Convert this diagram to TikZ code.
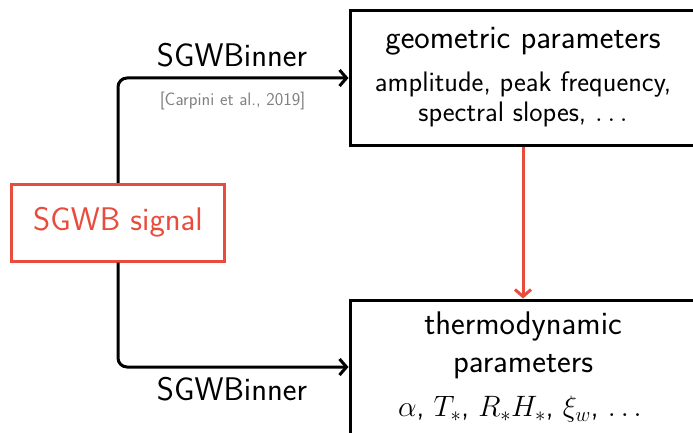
\RequirePackage{fix-cm}
\documentclass[tikz,border=0pt]{standalone}
\usetikzlibrary{arrows.meta}
\definecolor{sigred}{RGB}{231,76,60}
\definecolor{citegray}{RGB}{128,128,128}
\begin{document}
\begin{tikzpicture}[x=1pt,y=-1pt,
  box/.style={draw=black, line width=3pt, rectangle, inner sep=0pt},
  sigbox/.style={draw=sigred, text=sigred, line width=3pt, rectangle, inner sep=0pt,
    font=\sffamily\fontsize{32.7}{38}\selectfont},
  conn/.style={line width=3pt, -{Straight Barb[length=7pt,width=16pt]}, rounded corners=9pt},
  redconn/.style={conn, draw=sigred},
  big/.style={font=\sffamily\fontsize{32.7}{38}\selectfont, anchor=base, inner sep=0pt},
  mid/.style={font=\sffamily\fontsize{28.2}{33}\selectfont, anchor=base, inner sep=0pt},
  mathl/.style={font=\sffamily\fontsize{29.5}{34}\selectfont, anchor=base, inner sep=0pt},
  cite/.style={font=\sffamily\fontsize{18}{21}\selectfont, text=citegray, anchor=base, inner sep=0pt},
]
\useasboundingbox (0,0) rectangle (693,433);
\clip (0,0) rectangle (693,433);
% boxes
\node[box, minimum width=346pt, minimum height=134pt] (geo) at (523,78) {};
\node[box, minimum width=346pt, minimum height=134pt] (thermo) at (523,367) {};
\node[sigbox, minimum width=212.6pt, minimum height=76.7pt] (sig) at (118,222.7) {SGWB signal};
% box texts
\node[big] (geot) at (523,48.3) {geometric parameters};
\node[mid] (geol1) at (523,91.7) {amplitude, peak frequency,};
\node[mid] (geol2) at (523,121.7) {spectral slopes, $\ldots$};
\node[big] (tht1) at (523,334.3) {thermodynamic};
\node[big] (tht2) at (523,372.7) {parameters};
\node[mathl] (thl) at (520,416.7) {$\alpha$, $T_*$, $R_*H_*$, $\xi_w$, $\ldots$};
% connector labels
\node[big] (lab1) at (232,66.7) {SGWBinner};
\node[cite] (cit) at (232.5,105.3) {[Carpini et al., 2019]};
\node[big] (lab2) at (232,400) {SGWBinner};
% connectors
\draw[conn] (sig.north) |- (geo.west);
\draw[conn] (sig.south) |- (thermo.west);
\draw[redconn] (geo.south) -- (thermo.north);
\end{tikzpicture}
\end{document}
